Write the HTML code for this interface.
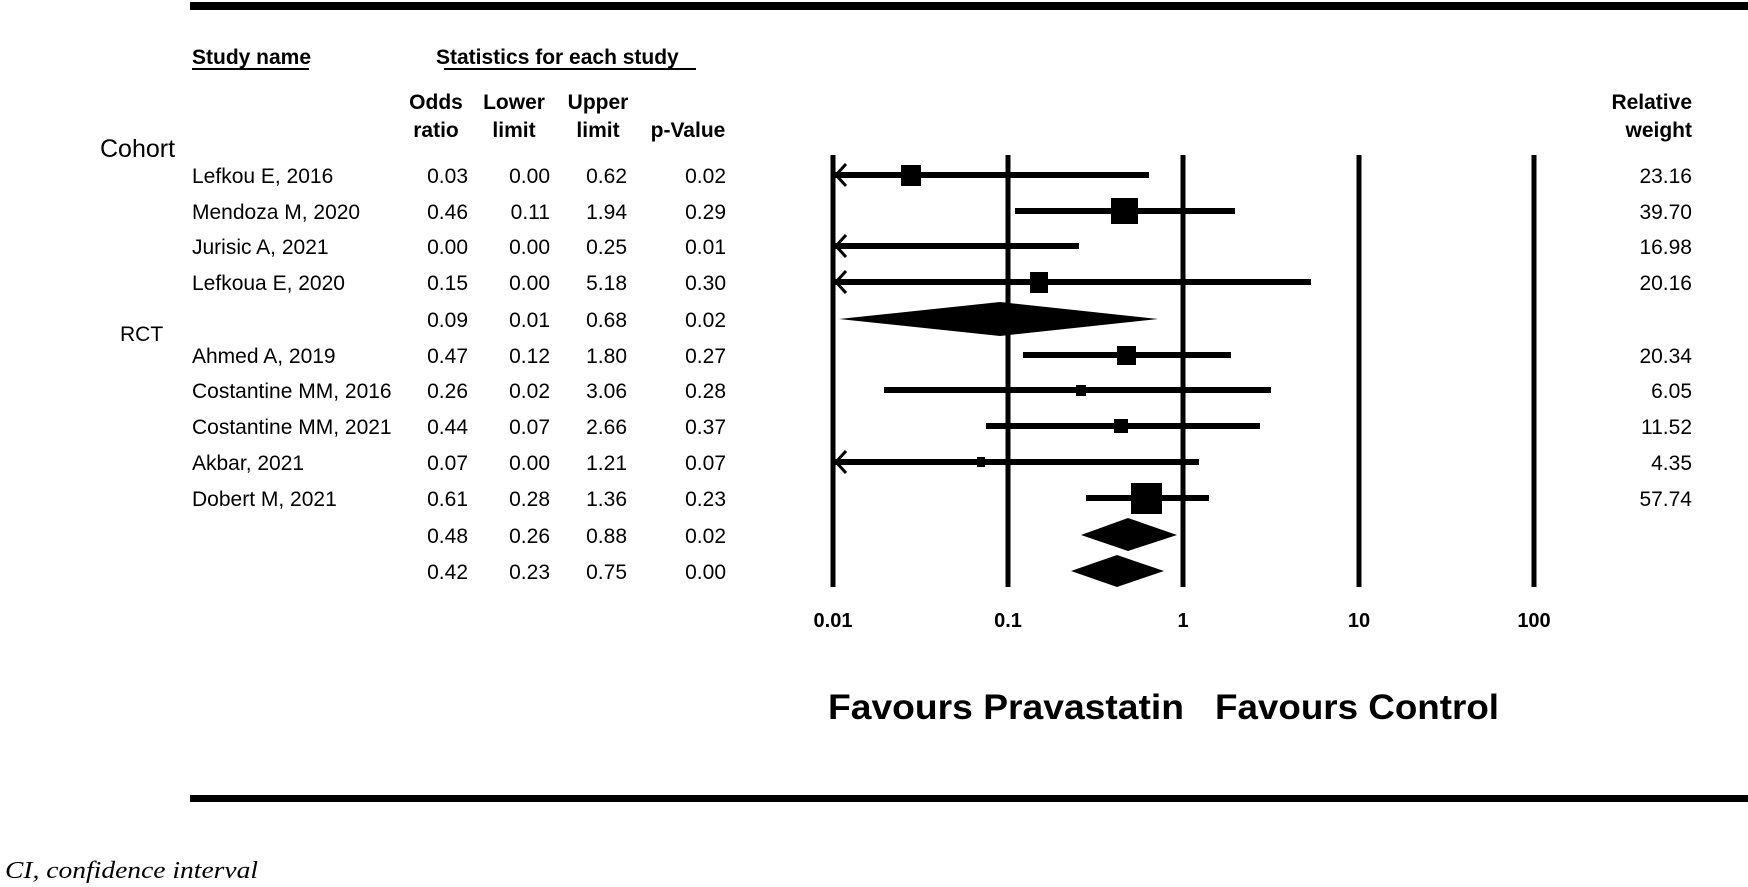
<!DOCTYPE html>
<html><head><meta charset="utf-8"><style>
html,body{margin:0;padding:0;background:#fff;}
svg{display:block;}
text{font-family:"Liberation Sans",Arial,sans-serif;fill:#000;}
</style></head><body>
<svg width="1748" height="887" viewBox="0 0 1748 887" xmlns="http://www.w3.org/2000/svg">
<rect x="190" y="2" width="1558" height="8" fill="#000"/>
<rect x="190" y="795" width="1558" height="7" fill="#000"/>

<g font-size="21" font-weight="bold">
<text x="192" y="64">Study name</text>
<rect x="192" y="68" width="117" height="2" fill="#000"/>
<text x="436" y="64">Statistics for each study</text>
<rect x="444" y="68" width="252" height="2" fill="#000"/>
<g text-anchor="middle">
<text x="436" y="109">Odds</text><text x="436" y="137">ratio</text>
<text x="514" y="109">Lower</text><text x="514" y="137">limit</text>
<text x="598" y="109">Upper</text><text x="598" y="137">limit</text>
<text x="688" y="137">p-Value</text>
</g>
<g text-anchor="end">
<text x="1692" y="109">Relative</text><text x="1692" y="137">weight</text>
</g>
</g>

<text x="100" y="157" font-size="25">Cohort</text>
<text x="120" y="341" font-size="21">RCT</text>

<g font-size="21">
<text x="192" y="183">Lefkou E, 2016</text>
<text x="192" y="219">Mendoza M, 2020</text>
<text x="192" y="254">Jurisic A, 2021</text>
<text x="192" y="290">Lefkoua E, 2020</text>
<text x="192" y="363">Ahmed A, 2019</text>
<text x="192" y="398">Costantine MM, 2016</text>
<text x="192" y="434">Costantine MM, 2021</text>
<text x="192" y="470">Akbar, 2021</text>
<text x="192" y="506">Dobert M, 2021</text>
<g text-anchor="end">
<text x="468" y="183">0.03</text><text x="550" y="183">0.00</text><text x="627" y="183">0.62</text><text x="726" y="183">0.02</text><text x="1692" y="183">23.16</text>
<text x="468" y="219">0.46</text><text x="550" y="219">0.11</text><text x="627" y="219">1.94</text><text x="726" y="219">0.29</text><text x="1692" y="219">39.70</text>
<text x="468" y="254">0.00</text><text x="550" y="254">0.00</text><text x="627" y="254">0.25</text><text x="726" y="254">0.01</text><text x="1692" y="254">16.98</text>
<text x="468" y="290">0.15</text><text x="550" y="290">0.00</text><text x="627" y="290">5.18</text><text x="726" y="290">0.30</text><text x="1692" y="290">20.16</text>
<text x="468" y="327">0.09</text><text x="550" y="327">0.01</text><text x="627" y="327">0.68</text><text x="726" y="327">0.02</text>
<text x="468" y="363">0.47</text><text x="550" y="363">0.12</text><text x="627" y="363">1.80</text><text x="726" y="363">0.27</text><text x="1692" y="363">20.34</text>
<text x="468" y="398">0.26</text><text x="550" y="398">0.02</text><text x="627" y="398">3.06</text><text x="726" y="398">0.28</text><text x="1692" y="398">6.05</text>
<text x="468" y="434">0.44</text><text x="550" y="434">0.07</text><text x="627" y="434">2.66</text><text x="726" y="434">0.37</text><text x="1692" y="434">11.52</text>
<text x="468" y="470">0.07</text><text x="550" y="470">0.00</text><text x="627" y="470">1.21</text><text x="726" y="470">0.07</text><text x="1692" y="470">4.35</text>
<text x="468" y="506">0.61</text><text x="550" y="506">0.28</text><text x="627" y="506">1.36</text><text x="726" y="506">0.23</text><text x="1692" y="506">57.74</text>
<text x="468" y="543">0.48</text><text x="550" y="543">0.26</text><text x="627" y="543">0.88</text><text x="726" y="543">0.02</text>
<text x="468" y="579">0.42</text><text x="550" y="579">0.23</text><text x="627" y="579">0.75</text><text x="726" y="579">0.00</text>
</g>
</g>

<g stroke="#000" stroke-width="5">
<line x1="833" y1="155" x2="833" y2="587"/>
<line x1="1008" y1="155" x2="1008" y2="587"/>
<line x1="1183" y1="155" x2="1183" y2="587"/>
<line x1="1359" y1="155" x2="1359" y2="587"/>
<line x1="1534" y1="155" x2="1534" y2="587"/>
</g>

<g stroke="#000" stroke-width="6">
<line x1="835" y1="175" x2="1149" y2="175"/>
<line x1="1015" y1="211" x2="1235" y2="211"/>
<line x1="835" y1="246" x2="1079" y2="246"/>
<line x1="835" y1="282" x2="1311" y2="282"/>
<line x1="1023" y1="355" x2="1231" y2="355"/>
<line x1="884" y1="390" x2="1271" y2="390"/>
<line x1="986" y1="426" x2="1260" y2="426"/>
<line x1="835" y1="462" x2="1199" y2="462"/>
<line x1="1086" y1="498" x2="1209" y2="498"/>
</g>
<g stroke="#000" stroke-width="3" fill="none">
<polyline points="846,164 836,175 846,186"/>
<polyline points="846,235 836,246 846,257"/>
<polyline points="846,271 836,282 846,293"/>
<polyline points="846,451 836,462 846,473"/>
</g>
<g fill="#000">
<rect x="901" y="165" width="20" height="21"/>
<rect x="1111" y="198" width="27" height="26"/>
<rect x="1030" y="272" width="18" height="21"/>
<rect x="1117" y="346" width="19" height="19"/>
<rect x="1076" y="385" width="10" height="11"/>
<rect x="1114" y="419" width="14" height="14"/>
<rect x="977" y="457" width="8" height="10"/>
<rect x="1131" y="483" width="31" height="31"/>
<polygon points="839,319 1000,302 1158,319 1000,336"/>
<polygon points="1081,535 1128,518 1177,535 1128,551"/>
<polygon points="1071,571 1117,555 1164,571 1117,587"/>
</g>

<g font-size="20" font-weight="bold" text-anchor="middle">
<text x="833" y="627">0.01</text>
<text x="1008" y="627">0.1</text>
<text x="1183" y="627">1</text>
<text x="1359" y="627">10</text>
<text x="1534" y="627">100</text>
</g>
<g font-size="35" font-weight="bold">
<text x="828" y="719" textLength="356" lengthAdjust="spacingAndGlyphs">Favours Pravastatin</text>
<text x="1215" y="719" textLength="284" lengthAdjust="spacingAndGlyphs">Favours Control</text>
</g>
<text x="5" y="878" font-size="24" font-style="italic" style="font-family:'Liberation Serif',serif" textLength="253" lengthAdjust="spacingAndGlyphs">CI, confidence interval</text>
</svg>
</body></html>
